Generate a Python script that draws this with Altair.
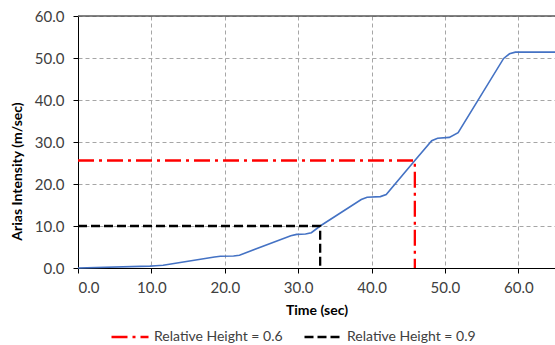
import altair as alt
import pandas as pd

# Cumulative Arias intensity record
time_s = [0, 9.8, 10.6, 11.6, 18.6, 19.4, 21.2, 22.0, 29.0, 29.8, 31.0, 31.8, 33.0,
          38.6, 39.4, 41.2, 42.0, 45.9, 48.2, 49.0, 50.6, 51.8, 58.0, 58.8, 59.6, 65]
arias = [0, 0.45, 0.55, 0.65, 2.6, 2.8, 2.85, 3.05, 7.7, 8.0, 8.1, 8.4, 10.0,
         16.3, 16.85, 17.0, 17.5, 25.6, 30.3, 30.9, 31.1, 32.2, 49.9, 51.0, 51.4, 51.4]

# Relative-height markers
rh_labels = ["Relative Height = 0.6", "Relative Height = 0.9"]
rh_time = [45.9, 33.0]
rh_ai = [25.6, 10.0]
rh_colors = ["#ff0000", "#000000"]
rh_dash = [[16, 5, 3, 5], [9, 4]]

x_ticks = [0, 10, 20, 30, 40, 50, 60]
y_ticks = [0, 10, 20, 30, 40, 50, 60]

curve = pd.DataFrame({"t": time_s, "ai": arias})

rows = []
for lab, t, a in zip(rh_labels, rh_time, rh_ai):
    rows += [
        {"label": lab, "t": 0, "ai": a, "o": 0},
        {"label": lab, "t": t, "ai": a, "o": 1},
        {"label": lab, "t": t, "ai": 0, "o": 2},
    ]
markers = pd.DataFrame(rows)

FONT = "Lato"

x_scale = alt.Scale(domain=[0, 65], nice=False, zero=False)
y_scale = alt.Scale(domain=[0, 60], nice=False)

x_enc = alt.X(
    "t:Q", scale=x_scale,
    axis=alt.Axis(values=x_ticks, format=".1f", title="Time (sec)",
                  grid=True, gridDash=[4, 3], gridColor="#a6a6a6",
                  labelPadding=7, titlePadding=8),
)
y_enc = alt.Y(
    "ai:Q", scale=y_scale,
    axis=alt.Axis(values=y_ticks, format=".1f", title="Arias Intensity (m/sec)",
                  grid=True, gridDash=[4, 3], gridColor="#a6a6a6",
                  labelPadding=9, titleX=-61, titleY=155, titleAngle=270,
                  titleAlign="center", titleBaseline="middle"),
)

top_rule = alt.Chart(pd.DataFrame({"ai": [60]})).mark_rule(
    color="#595959", strokeWidth=1.5
).encode(y=alt.Y("ai:Q", scale=y_scale))

line = alt.Chart(curve).mark_line(
    color="#4472c4", strokeWidth=1.6
).encode(x=x_enc, y=y_enc)

legend = alt.Legend(title=None, orient="none", direction="horizontal",
                    legendX=32, legendY=301)

marks = alt.Chart(markers).mark_line(strokeWidth=2.3).encode(
    x=alt.X("t:Q", scale=x_scale),
    y=alt.Y("ai:Q", scale=y_scale),
    order="o:Q",
    color=alt.Color("label:N", scale=alt.Scale(domain=rh_labels, range=rh_colors),
                    legend=legend),
    strokeDash=alt.StrokeDash("label:N", scale=alt.Scale(domain=rh_labels, range=rh_dash),
                              legend=legend),
)

chart = alt.layer(line, marks, top_rule).properties(
    width=477, height=252,
    autosize=alt.AutoSizeParams(type="none"),
    padding={"left": 78, "top": 16, "right": 0, "bottom": 77},
).configure_view(stroke=None).configure_axis(
    labelFont=FONT, titleFont=FONT, labelFontSize=15, titleFontSize=14,
    labelColor="#404040", titleColor="#000000", domainColor="#000000",
    tickColor="#000000", tickSize=5,
).configure_legend(
    labelFont=FONT, labelFontSize=14, labelColor="#404040",
    symbolType="stroke", symbolSize=1369, symbolStrokeWidth=2.3,
    columnPadding=16, labelOffset=4, padding=0,
)

chart.save("out.html", embed_options={"renderer": "svg", "actions": False})
